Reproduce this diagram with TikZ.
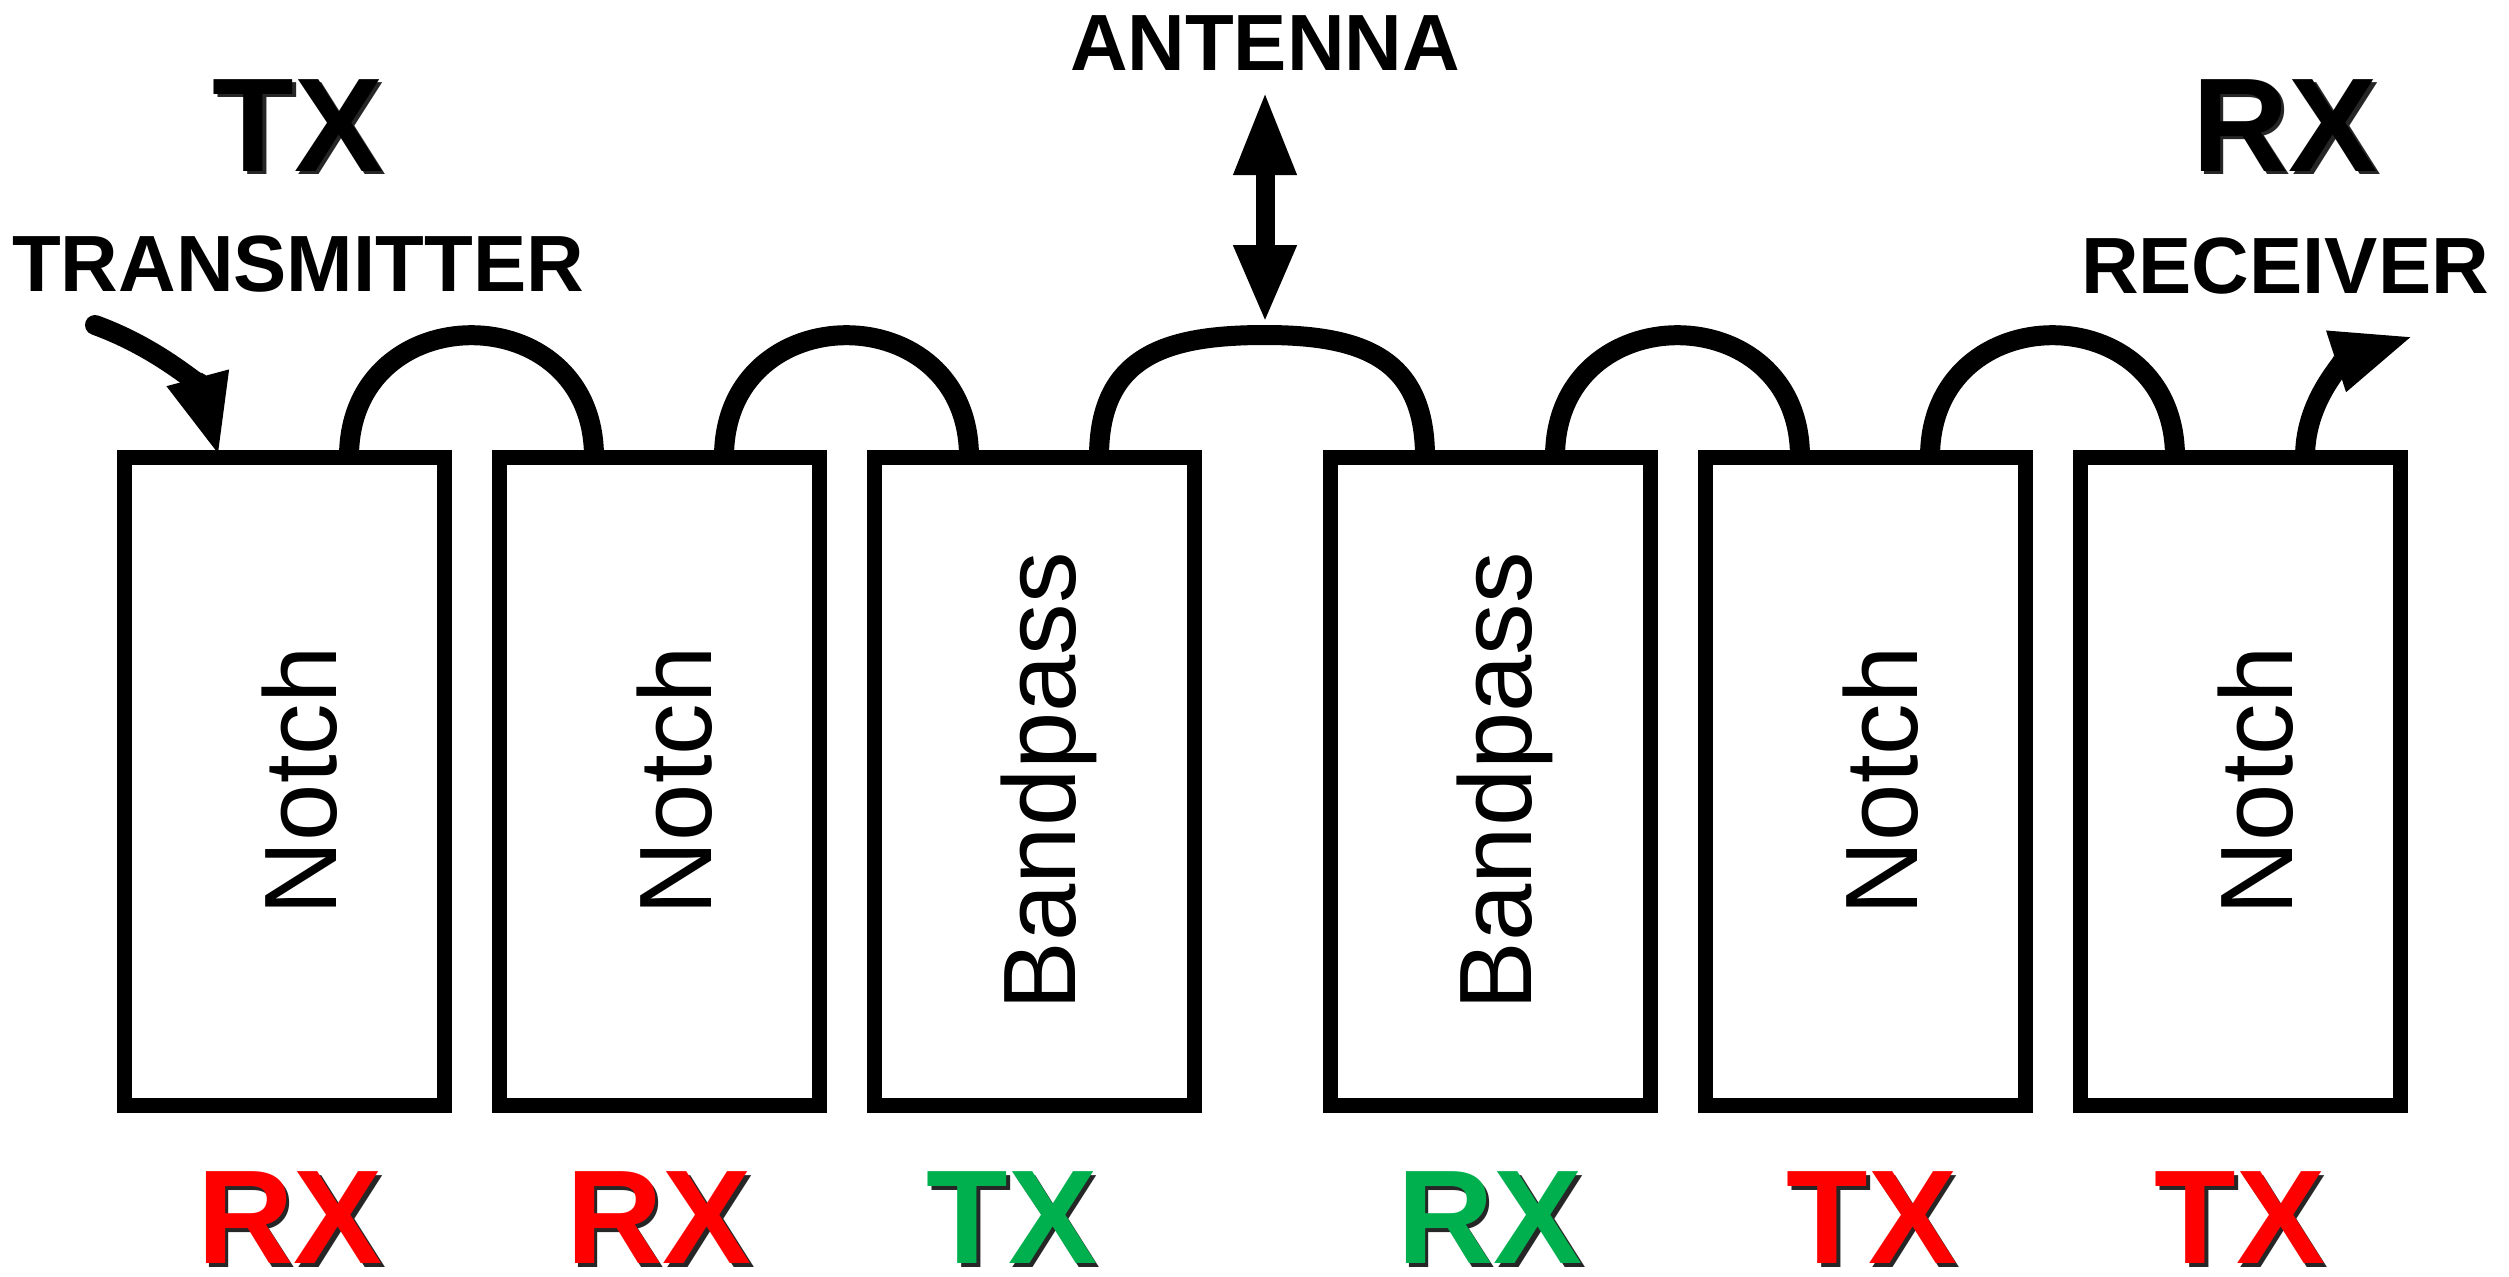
\documentclass[tikz,border=0pt]{standalone}
\usepackage{fontspec}
\setmainfont{Liberation Sans}
\usepackage{xcolor}
\usetikzlibrary{positioning}
\usetikzlibrary{arrows.meta}
\definecolor{kellygreen}{rgb}{0.0, 0.69, 0.31}
\definecolor{signalred}{rgb}{1.0, 0.0, 0.0}
\tikzset{%
  filterbox/.style={rectangle,draw=black,line width=0.15cm,minimum width=3.2cm,minimum height=6.48cm,inner sep=0pt,outer sep=0pt,font=\fontsize{29.3}{32}\selectfont}
}
\tikzset{%
  biglabel/.style={inner sep=0pt,font=\fontsize{38}{40}\selectfont\bfseries},
  smalllabel/.style={inner sep=0pt,font=\fontsize{22.7}{24}\selectfont\bfseries}
}
\tikzset{%
  hump/.style={line width=0.2cm},
  feed/.style={line width=0.2cm,-{Triangle[length=0.82cm,width=0.58cm]}}
}
\newcommand\filtertext[1]{\rotatebox{90}{\rule{0pt}{1.05cm}#1}}
\newcommand\shadowed[2]{\makebox[0pt][l]{\hspace*{0.035cm}\raisebox{-0.035cm}{\color{black!85}#2}}{\color{#1}#2}}

\begin{document}
\begin{tikzpicture}[node distance=0.55cm]
        \useasboundingbox (0,0) rectangle (25.09,-12.76);
        \node[filterbox](boxa) at (2.84,-7.81){\filtertext{Notch}};
        \node[filterbox,right=of boxa](boxb){\filtertext{Notch}};
        \node[filterbox,right=of boxb](boxc){\filtertext{Bandpass}};
        \node[filterbox,right=1.36cm of boxc](boxd){\filtertext{Bandpass}};
        \node[filterbox,right=of boxd](boxe){\filtertext{Notch}};
        \node[filterbox,right=of boxe](boxf){\filtertext{Notch}};

        \node[biglabel,below=0.66cm of boxa,xshift=0.06cm](labela){\shadowed{signalred}{RX}};
        \node[biglabel,below=0.66cm of boxb](labelb){\shadowed{signalred}{RX}};
        \node[biglabel,below=0.66cm of boxc,xshift=-0.22cm](labelc){\shadowed{kellygreen}{TX}};
        \node[biglabel,below=0.66cm of boxd](labeld){\shadowed{kellygreen}{RX}};
        \node[biglabel,below=0.66cm of boxe,xshift=0.07cm](labele){\shadowed{signalred}{TX}};
        \node[biglabel,below=0.66cm of boxf](labelf){\shadowed{signalred}{TX}};

        \node[biglabel](txtop) at (2.98,-1.27){\shadowed{black}{TX}};
        \node[smalllabel,below=0.6cm of txtop](txname){TRANSMITTER};
        \node[biglabel](rxtop) at (22.85,-1.27){\shadowed{black}{RX}};
        \node[smalllabel,below=0.62cm of rxtop](rxname){RECEIVER};
        \node[smalllabel](antenna) at (12.65,-0.43){ANTENNA};

        \coordinate[right=0.95cm of boxa.north west](footal);
        \coordinate[left=0.95cm of boxa.north east](footar);
        \coordinate[right=0.95cm of boxb.north west](footbl);
        \coordinate[left=0.95cm of boxb.north east](footbr);
        \coordinate[right=0.95cm of boxc.north west](footcl);
        \coordinate[left=0.95cm of boxc.north east](footcr);
        \coordinate[right=0.95cm of boxd.north west](footdl);
        \coordinate[left=0.95cm of boxd.north east](footdr);
        \coordinate[right=0.95cm of boxe.north west](footel);
        \coordinate[left=0.95cm of boxe.north east](footer);
        \coordinate[right=0.95cm of boxf.north west](footfl);
        \coordinate[left=0.95cm of boxf.north east](footfr);
        \coordinate(apex) at (12.65,-3.35);
        \coordinate(txtail) at (0.95,-3.25);
        \coordinate(rxhead) at (24.14,-3.36);

        \draw[hump] (footar) to[out=90,in=90,looseness=1.7] (footbl);
        \draw[hump] (footbr) to[out=90,in=90,looseness=1.7] (footcl);
        \draw[hump] (footcr) to[out=90,in=180,looseness=1.25] (apex) to[out=0,in=90,looseness=1.25] (footdl);
        \draw[hump] (footdr) to[out=90,in=90,looseness=1.7] (footel);
        \draw[hump] (footer) to[out=90,in=90,looseness=1.7] (footfl);

        \draw[feed,line cap=round] (txtail) to[out=-20,in=105] (footal);
        \draw[feed] (footfr) to[out=90,in=198] (rxhead);
        \draw[line width=0.19cm,{Triangle[length=0.84cm,width=0.58cm]}-{Triangle[length=0.78cm,width=0.58cm]},shorten <=0.2cm,shorten >=0.12cm] (antenna) -- (apex);
      \end{tikzpicture}
\end{document}
